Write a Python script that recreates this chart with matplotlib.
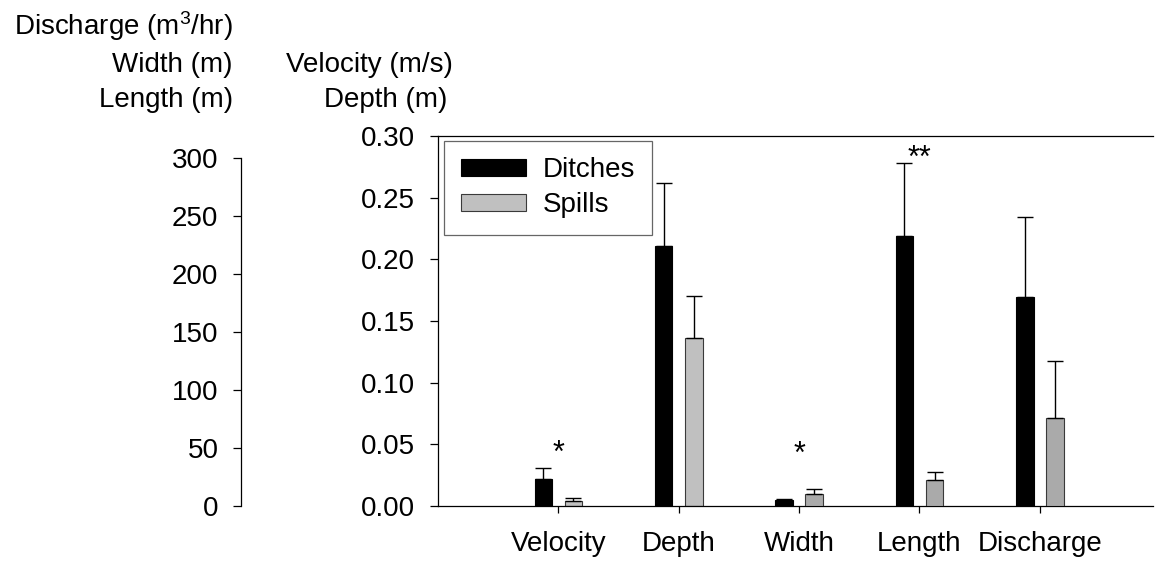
import numpy as np
import matplotlib
matplotlib.use('Agg')
import matplotlib.pyplot as plt
from matplotlib.ticker import FormatStrFormatter, MultipleLocator

plt.rcParams['font.family'] = ['Liberation Sans', 'DejaVu Sans']
plt.rcParams['mathtext.fontset'] = 'custom'
plt.rcParams['mathtext.rm'] = 'Liberation Sans'
plt.rcParams['mathtext.default'] = 'regular'

# channel measurements, ditches vs spills (mean and upper error)
categories = ['Velocity', 'Depth', 'Width', 'Length', 'Discharge']

# velocity / depth go on the inner axis (0-0.30)
ditch_small = [0.022, 0.211]
ditch_small_err = [0.009, 0.051]
spill_small = [0.004, 0.136]
spill_small_err = [0.0027, 0.034]

# width / length / discharge go on the outer axis (0-300)
ditch_big = [5.5, 233, 180]
ditch_big_err = [0.5, 63, 69]
spill_big = [10, 22, 76]
spill_big_err = [4.4, 7, 49]

# significance marks: category index, axis, height of the text baseline
sig_marks = ['*', '*', '**']
sig_pos = [0, 2, 3]
sig_y = [0.0357, 37, 292]

W, H = 1156, 561
fig = plt.figure(figsize=(W / 100, H / 100), dpi=100)
ax = fig.add_axes([438 / W, 55 / H, (1153 - 438) / W, 370 / H])
ax2 = ax.twinx()

fs = 20
bw = 0.145
off = 0.125
x = np.arange(len(categories))
xs, xb = x[:2], x[2:]

ax.bar(xs - off, ditch_small, bw, color='black', edgecolor='black', linewidth=0.8, label='Ditches')
ax.bar(xs + off, spill_small, bw, color='#c0c0c0', edgecolor='#3a3a3a', linewidth=0.8, label='Spills')
ax.errorbar(xs - off, ditch_small, yerr=[np.zeros(2), ditch_small_err], fmt='none',
            ecolor='black', elinewidth=1, capsize=6, capthick=1)
ax.errorbar(xs + off, spill_small, yerr=[np.zeros(2), spill_small_err], fmt='none',
            ecolor='black', elinewidth=1, capsize=6, capthick=1)

ax2.bar(xb - off, ditch_big, bw, color='black', edgecolor='black', linewidth=0.8)
ax2.bar(xb + off, spill_big, bw, color='#aaaaaa', edgecolor='#3a3a3a', linewidth=0.8)
ax2.errorbar(xb - off, ditch_big, yerr=[np.zeros(3), ditch_big_err], fmt='none',
             ecolor='black', elinewidth=1, capsize=6, capthick=1)
ax2.errorbar(xb + off, spill_big, yerr=[np.zeros(3), spill_big_err], fmt='none',
             ecolor='black', elinewidth=1, capsize=6, capthick=1)

for m, p, yv in zip(sig_marks, sig_pos, sig_y):
    target = ax if p < 2 else ax2
    target.text(p, yv, m, ha='center', va='baseline', fontsize=22)

# inner axis
ax.set_xlim(-1, 4.94)
ax.set_ylim(0, 0.30)
ax.yaxis.set_major_locator(MultipleLocator(0.05))
ax.yaxis.set_major_formatter(FormatStrFormatter('%.2f'))
ax.set_xticks(x)
ax.set_xticklabels(categories)
ax.spines['right'].set_visible(False)
for s in ['left', 'bottom', 'top']:
    ax.spines[s].set_linewidth(0.9)
ax.tick_params(axis='y', direction='out', length=5.8, width=0.9, pad=10.5, labelsize=fs)
ax.tick_params(axis='x', direction='out', length=5, width=0.9, pad=13, labelsize=fs)

# outer axis, pushed left and drawn up to 300 only
ax2.set_ylim(0, 300 * 370 / 348)
ax2.yaxis.tick_left()
ax2.yaxis.set_label_position('left')
for s in ['right', 'top', 'bottom']:
    ax2.spines[s].set_visible(False)
ax2.spines['left'].set_visible(True)
ax2.spines['left'].set_position(('outward', 197 * 0.72))
ax2.spines['left'].set_bounds(0, 300)
ax2.spines['left'].set_linewidth(0.9)
ax2.set_yticks(np.arange(0, 301, 50))
ax2.tick_params(axis='y', direction='out', length=5.8, width=0.9, pad=10.5, labelsize=fs)

leg = ax.legend(loc='upper left', bbox_to_anchor=(444 / W, 1 - 140.5 / H),
                bbox_transform=fig.transFigure, borderaxespad=0, fancybox=False,
                edgecolor='#404040', fontsize=fs, handlelength=2.34, handleheight=0.54,
                handletextpad=0.61, labelspacing=0.32, borderpad=0.6)
leg.get_frame().set_linewidth(0.9)

# axis titles, stacked over the two scales
fig.text(233 / W, 1 - 35 / H, 'Discharge (m$^3$/hr)', ha='right', va='baseline', fontsize=fs)
fig.text(233 / W, 1 - 71.5 / H, 'Width (m)', ha='right', va='baseline', fontsize=fs)
fig.text(233 / W, 1 - 107 / H, 'Length (m)', ha='right', va='baseline', fontsize=fs)
fig.text(453 / W, 1 - 71.5 / H, 'Velocity (m/s)', ha='right', va='baseline', fontsize=fs)
fig.text(447 / W, 1 - 107 / H, 'Depth (m)', ha='right', va='baseline', fontsize=fs)

fig.savefig('out.png', dpi=100)
